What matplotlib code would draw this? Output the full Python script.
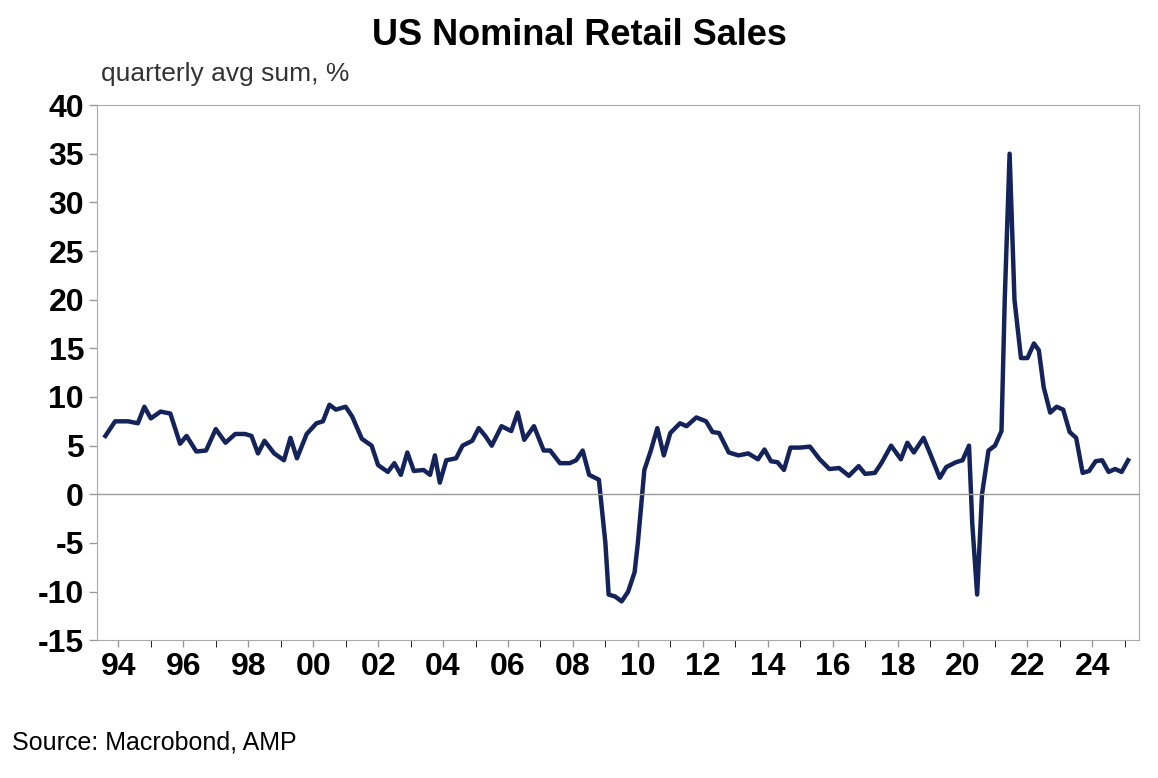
import matplotlib
matplotlib.use("Agg")
import matplotlib.pyplot as plt

plt.rcParams['font.family'] = ['Liberation Sans', 'DejaVu Sans']
plt.rcParams['axes.unicode_minus'] = False

# values (decimal year, % quarterly avg sum)
years = [1993.6, 1993.9, 1994.3, 1994.6, 1994.8, 1995.0, 1995.3, 1995.6, 1995.9, 1996.1,
         1996.4, 1996.7, 1997.0, 1997.3, 1997.6, 1997.9, 1998.1, 1998.3, 1998.5, 1998.8,
         1999.1, 1999.3, 1999.5, 1999.8, 2000.1, 2000.3, 2000.5, 2000.7, 2001.0, 2001.2,
         2001.5, 2001.8, 2002.0, 2002.3, 2002.5, 2002.7, 2002.9, 2003.1, 2003.4, 2003.6,
         2003.75, 2003.9, 2004.1, 2004.4, 2004.6, 2004.9, 2005.1, 2005.3, 2005.5, 2005.8,
         2006.1, 2006.3, 2006.5, 2006.8, 2007.1, 2007.3, 2007.6, 2007.9, 2008.1, 2008.3,
         2008.5, 2008.8, 2009.0, 2009.1, 2009.3, 2009.5, 2009.7, 2009.9, 2010.0, 2010.2,
         2010.4, 2010.6, 2010.8, 2011.0, 2011.3, 2011.5, 2011.8, 2012.1, 2012.3, 2012.5,
         2012.8, 2013.1, 2013.4, 2013.7, 2013.9, 2014.1, 2014.3, 2014.5, 2014.7, 2015.0,
         2015.3, 2015.6, 2015.9, 2016.2, 2016.5, 2016.8, 2017.0, 2017.3, 2017.5, 2017.8,
         2018.1, 2018.3, 2018.5, 2018.8, 2019.0, 2019.3, 2019.5, 2019.8, 2020.0, 2020.2,
         2020.3, 2020.45, 2020.6, 2020.8, 2021.0, 2021.2, 2021.3, 2021.45, 2021.6, 2021.8,
         2022.0, 2022.2, 2022.35, 2022.5, 2022.7, 2022.9, 2023.1, 2023.3, 2023.5, 2023.7,
         2023.9, 2024.1, 2024.3, 2024.5, 2024.7, 2024.9, 2025.1]
sales = [6.0, 7.5, 7.5, 7.3, 9.0, 7.8, 8.5, 8.3, 5.2, 6.0,
         4.4, 4.5, 6.7, 5.3, 6.2, 6.2, 6.0, 4.2, 5.5, 4.2,
         3.5, 5.8, 3.7, 6.2, 7.3, 7.5, 9.2, 8.7, 9.0, 8.0,
         5.7, 5.0, 3.0, 2.3, 3.2, 2.0, 4.3, 2.4, 2.5, 2.0,
         4.0, 1.2, 3.5, 3.7, 5.0, 5.5, 6.8, 6.0, 5.0, 7.0,
         6.5, 8.4, 5.6, 7.0, 4.5, 4.5, 3.2, 3.2, 3.5, 4.5,
         2.0, 1.5, -5.0, -10.3, -10.5, -11.0, -10.0, -8.0, -5.0, 2.5,
         4.5, 6.8, 4.0, 6.3, 7.3, 7.0, 7.9, 7.5, 6.4, 6.3,
         4.3, 4.0, 4.2, 3.6, 4.6, 3.4, 3.3, 2.5, 4.8, 4.8,
         4.9, 3.6, 2.6, 2.7, 1.9, 2.9, 2.1, 2.2, 3.2, 5.0,
         3.6, 5.3, 4.3, 5.8, 4.2, 1.7, 2.8, 3.3, 3.5, 5.0,
         -3.0, -10.3, 0.0, 4.5, 5.0, 6.5, 20.0, 35.0, 20.0, 14.0,
         14.0, 15.5, 14.8, 11.0, 8.4, 9.0, 8.7, 6.4, 5.8, 2.2,
         2.4, 3.4, 3.5, 2.3, 2.6, 2.3, 3.5]

tick_years = list(range(1994, 2025, 2))
tick_labels = [f"{y % 100:02d}" for y in tick_years]

fig = plt.figure(figsize=(11.58, 7.78), dpi=100)
ax = fig.add_axes([0.084, 0.177, 0.900, 0.688])

ax.plot(years, sales, color='#14235a', linewidth=3.2, solid_joinstyle='round')
ax.axhline(0, color='#999999', linewidth=1)

ax.set_xlim(1993.35, 2025.45)
ax.set_ylim(-15, 40)
ax.set_yticks(range(-15, 41, 5))
ax.set_xticks(tick_years)
ax.set_xticklabels(tick_labels)
ax.set_xticks(range(1994, 2026), minor=True)
ax.tick_params(axis='both', labelsize=23, width=1, color='#999999')
ax.tick_params(axis='x', which='both', length=5, direction='out')
ax.tick_params(axis='y', length=6, direction='out')
for lab in ax.get_xticklabels() + ax.get_yticklabels():
    lab.set_fontweight('bold')
for s in ax.spines.values():
    s.set_color('#aaaaaa')

fig.text(0.5, 0.955, 'US Nominal Retail Sales', ha='center', va='center',
         fontsize=26, fontweight='bold')
fig.text(0.087, 0.905, 'quarterly avg sum, %', ha='left', va='center',
         fontsize=19, color='#333333')
fig.text(0.01, 0.045, 'Source: Macrobond, AMP', ha='left', va='center', fontsize=18)

fig.savefig('out.png', dpi=100)
